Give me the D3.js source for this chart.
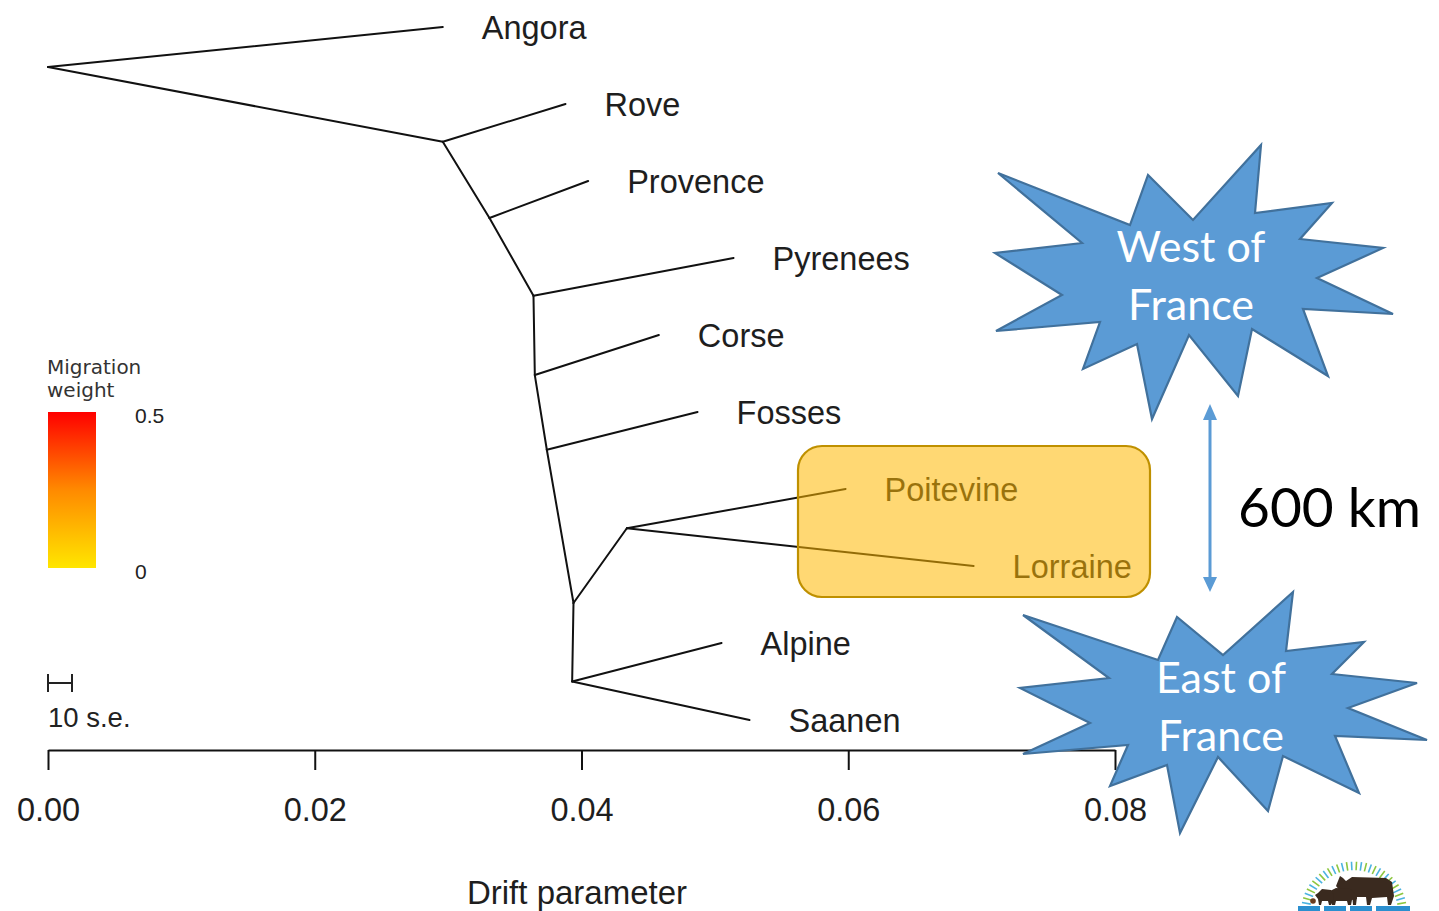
<!DOCTYPE html>
<html>
<head>
<meta charset="utf-8">
<script src="https://cdn.jsdelivr.net/npm/d3@7/dist/d3.min.js"></script>
<style>
  html, body { margin: 0; padding: 0; background: #fff; }
  svg { display: block; }
</style>
</head>
<body>
<svg id="chart" width="1439" height="911"></svg>
<script>
// ---- Tree data: drift (x) and row position (y) of every node ----
const nodeNames = ["root", "Angora", "n1", "Rove", "n2", "Provence", "n3", "Pyrenees",
  "n4", "Corse", "n5", "Fosses", "n6", "n7", "Poitevine", "Lorraine", "n8", "Alpine", "Saanen"];
const nodeDrift = [0.0000, 0.0296, 0.0296, 0.0388, 0.0331, 0.0405, 0.0364, 0.0514,
  0.0365, 0.0458, 0.0374, 0.0487, 0.0394, 0.0434, 0.0598, 0.0694, 0.0393, 0.0505, 0.0526];
const nodeRow = [0.52, 0, 1.49, 1, 2.48, 2, 3.49, 3,
  4.52, 4, 5.49, 5, 7.48, 6.51, 6, 7, 8.5, 8, 9];
const tipNames = ["Angora", "Rove", "Provence", "Pyrenees", "Corse", "Fosses",
  "Poitevine", "Lorraine", "Alpine", "Saanen"];

// branches as parent -> child
const edgeFrom = ["root", "root", "n1", "n1", "n2", "n2", "n3", "n3", "n4", "n4",
  "n5", "n5", "n6", "n7", "n7", "n6", "n8", "n8"];
const edgeTo = ["Angora", "n1", "Rove", "n2", "Provence", "n3", "Pyrenees", "n4", "Corse", "n5",
  "Fosses", "n6", "n7", "Poitevine", "Lorraine", "n8", "Alpine", "Saanen"];

const driftTicks = [0.00, 0.02, 0.04, 0.06, 0.08];
const legendTicks = [0, 0.5];

// ---- Scales ----
const svg = d3.select("#chart");
const x = d3.scaleLinear().domain([0, 0.08]).range([48, 1115]);
const y = d3.scaleLinear().domain([0, 9]).range([27, 720]);

const nodeMap = new Map(nodeNames.map((n, i) => [n, { name: n, drift: nodeDrift[i], row: nodeRow[i] }]));
const edges = edgeFrom.map((f, i) => ({ source: nodeMap.get(f), target: nodeMap.get(edgeTo[i]) }));

const sansFont = "'Liberation Sans', Arial, sans-serif";

// ---- Branches ----
svg.append("g").attr("class", "branches")
  .selectAll("line").data(edges).join("line")
  .attr("x1", d => x(d.source.drift)).attr("y1", d => y(d.source.row))
  .attr("x2", d => x(d.target.drift)).attr("y2", d => y(d.target.row))
  .attr("stroke", "#111").attr("stroke-width", 2).attr("stroke-linecap", "round");

// ---- Tip labels ----
svg.append("g").attr("class", "tips")
  .selectAll("text").data(tipNames.map(n => nodeMap.get(n))).join("text")
  .attr("x", d => x(d.drift) + 39)
  .attr("y", d => y(d.row))
  .attr("dy", "0.38em")
  .attr("font-family", sansFont).attr("font-size", 32.5)
  .attr("fill", "#1e1e1e")
  .text(d => d.name);

// ---- Drift axis ----
const axis = svg.append("g").attr("transform", "translate(0,750)")
  .call(d3.axisBottom(x).tickValues(driftTicks).tickFormat(d3.format(".2f"))
    .tickSize(20).tickSizeOuter(0).tickPadding(28));
axis.select(".domain").attr("stroke", "#111").attr("stroke-width", 2);
axis.selectAll(".tick line").attr("stroke", "#111").attr("stroke-width", 2);
axis.selectAll(".tick text").attr("font-family", sansFont).attr("font-size", 32.5).attr("fill", "#1e1e1e");

svg.append("text").attr("x", 577).attr("y", 904).attr("text-anchor", "middle")
  .attr("font-family", sansFont).attr("font-size", 33).attr("fill", "#1e1e1e")
  .text("Drift parameter");

// ---- Migration weight legend ----
const defs = svg.append("defs");
const grad = defs.append("linearGradient").attr("id", "heat")
  .attr("x1", 0).attr("y1", 1).attr("x2", 0).attr("y2", 0);
grad.append("stop").attr("offset", "0%").attr("stop-color", "#ffe600");
grad.append("stop").attr("offset", "50%").attr("stop-color", "#ff8a00");
grad.append("stop").attr("offset", "100%").attr("stop-color", "#ff0000");

const wScale = d3.scaleLinear().domain([0, 0.5]).range([568, 412]);
svg.append("rect").attr("x", 48).attr("y", wScale(0.5)).attr("width", 48)
  .attr("height", wScale(0) - wScale(0.5)).attr("fill", "url(#heat)");
svg.append("g").selectAll("text").data(legendTicks).join("text")
  .attr("x", 135).attr("y", d => wScale(d) + 3).attr("dy", "0.36em")
  .attr("font-family", sansFont).attr("font-size", 21).attr("fill", "#222")
  .text(d => d3.format("")(d));
svg.append("text").attr("font-family", "'DejaVu Sans', sans-serif").attr("font-size", 20)
  .attr("fill", "#333")
  .selectAll("tspan").data(["Migration", "weight"]).join("tspan")
  .attr("x", 47).attr("y", (d, i) => 374 + i * 23).text(d => d);

// ---- Scale bar (10 s.e.) ----
const sb = svg.append("g").attr("stroke", "#222").attr("stroke-width", 2);
sb.append("line").attr("x1", 48).attr("x2", 72).attr("y1", 683).attr("y2", 683);
sb.append("line").attr("x1", 48).attr("x2", 48).attr("y1", 674).attr("y2", 692);
sb.append("line").attr("x1", 72).attr("x2", 72).attr("y1", 674).attr("y2", 692);
svg.append("text").attr("x", 48).attr("y", 727)
  .attr("font-family", sansFont).attr("font-size", 27.5).attr("fill", "#222")
  .text("10 s.e.");

// ---- Highlight box around the Poitevine / Lorraine clade ----
svg.append("rect").attr("x", 798).attr("y", 446).attr("width", 352).attr("height", 151)
  .attr("rx", 24).attr("ry", 24)
  .attr("fill", "#ffb800").attr("fill-opacity", 0.55)
  .attr("stroke", "#bf9000").attr("stroke-width", 2.2);

// ---- Burst shapes ----
const westBurst = [[998,173],[1130,225],[1148,175],[1193,220],[1261,145],[1255,213],[1332,203],
  [1300,239],[1383,248],[1317,278],[1393,314],[1303,309],[1328,376],[1252,329],[1238,396],
  [1189,335],[1152,419],[1137,344],[1083,369],[1100,322],[996,331],[1062,295],[995,253],[1082,243]];
const eastBurst = [[1023,615],[1158,660],[1177,617],[1223,655],[1293,592],[1286,651],[1364,642],
  [1332,674],[1417,683],[1348,708],[1427,740],[1335,736],[1359,793],[1283,756],[1268,811],
  [1218,757],[1180,833],[1167,765],[1110,786],[1128,745],[1023,754],[1090,723],[1020,688],[1109,678]];
const bursts = [
  { pts: westBurst, lines: ["West of", "France"], cx: 1191, cy: 247 },
  { pts: eastBurst, lines: ["East of", "France"], cx: 1221, cy: 678 }
];
const bg = svg.append("g").selectAll("g").data(bursts).join("g");
bg.append("path").attr("d", d => d3.line()(d.pts) + "Z")
  .attr("fill", "#5b9bd5").attr("stroke", "#41719c").attr("stroke-width", 2.2)
  .attr("stroke-linejoin", "miter");
bg.each(function (d) {
  d3.select(this).append("g").selectAll("text").data(d.lines).join("text")
    .attr("x", d.cx).attr("y", (t, i) => d.cy + i * 58).attr("dy", "0.36em")
    .attr("text-anchor", "middle").attr("font-family", "Lato, 'Open Sans', sans-serif")
    .attr("font-size", 43).attr("fill", "#fff").text(t => t);
});

// ---- Distance arrow ----
const ag = svg.append("g").attr("fill", "#5b9bd5");
ag.append("line").attr("x1", 1210).attr("x2", 1210).attr("y1", 416).attr("y2", 580)
  .attr("stroke", "#5b9bd5").attr("stroke-width", 3);
ag.append("path").attr("d", "M1210,404L1203,420L1217,420Z");
ag.append("path").attr("d", "M1210,592L1203,577L1217,577Z");
svg.append("text").attr("x", 1238).attr("y", 527)
  .attr("font-family", "Lato, 'Open Sans', sans-serif").attr("font-size", 55).attr("fill", "#000")
  .text("600 km");

// ---- Small institute logo ----
const logo = svg.append("g").attr("class", "logo");
const arcN = 34;
d3.range(arcN).forEach(i => {
  const a = Math.PI - (i / (arcN - 1)) * Math.PI;
  const r1 = 44, r2 = 53;
  const cx = 1354, cy = 912;
  logo.append("line")
    .attr("x1", cx + r1 * Math.cos(a)).attr("y1", cy - r1 * 0.95 * Math.sin(a))
    .attr("x2", cx + r2 * Math.cos(a)).attr("y2", cy - r2 * 0.95 * Math.sin(a))
    .attr("stroke", i % 2 ? "#8cc63f" : "#4bb3e0").attr("stroke-width", 1.6);
});
const brown = "#3a2a1f";
// cow
logo.append("path").attr("fill", brown)
  .attr("d", "M1346,881 L1352,877 L1386,878 L1392,882 L1394,896 L1391,905 L1388,905 L1387,897 L1372,898 L1370,905 L1367,905 L1366,897 L1357,897 L1356,905 L1353,905 L1352,893 L1346,890 L1340,891 L1336,886 L1338,881 L1340,876 L1343,878 Z");
// pig
logo.append("path").attr("fill", brown)
  .attr("d", "M1330,891 L1336,888 L1350,889 L1356,894 L1357,899 L1352,900 L1351,905 L1348,905 L1347,901 L1336,901 L1335,905 L1332,905 L1331,899 L1328,896 Z");
// sheep
logo.append("path").attr("fill", brown)
  .attr("d", "M1318,893 L1322,889 L1331,890 L1334,895 L1333,901 L1331,905 L1329,905 L1328,901 L1322,901 L1321,905 L1319,905 L1318,899 L1315,895 Z");
// hen
logo.append("circle").attr("cx", 1313).attr("cy", 901).attr("r", 2.8).attr("fill", "#6b3b1e");
// base bars
[[1298, 1320], [1324, 1346], [1350, 1372], [1376, 1410]].forEach(b => {
  logo.append("rect").attr("x", b[0]).attr("y", 906).attr("width", b[1] - b[0]).attr("height", 5)
    .attr("fill", "#2b8fcf");
});
</script>
</body>
</html>
